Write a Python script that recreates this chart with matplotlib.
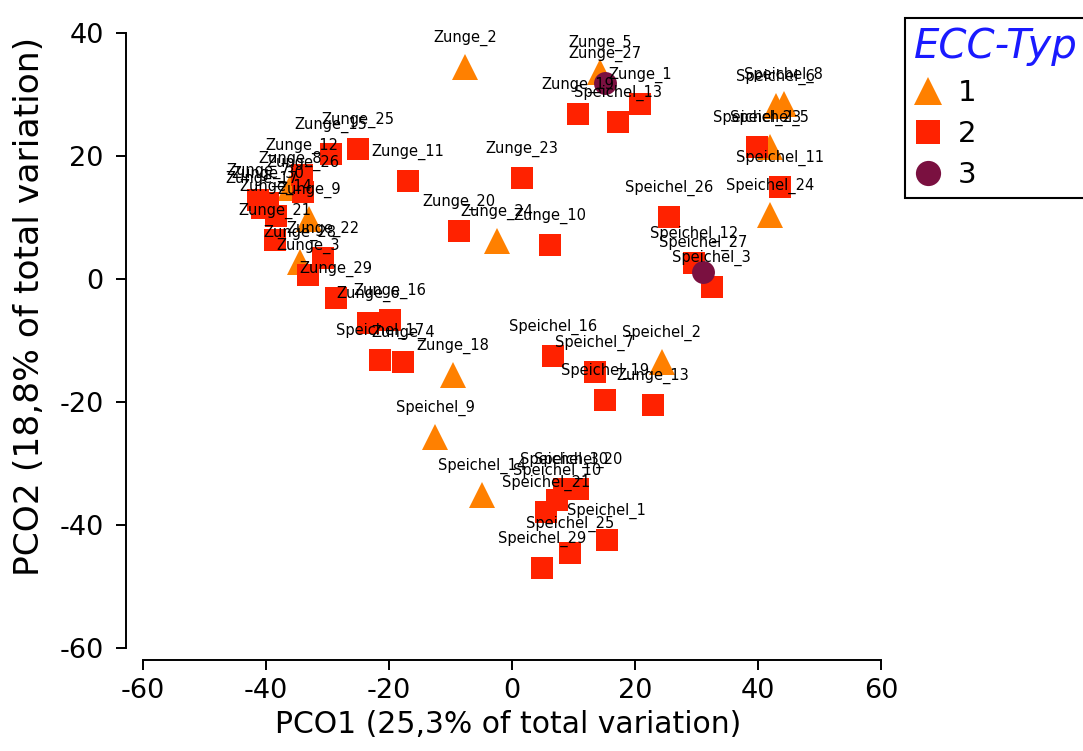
import numpy as np
import matplotlib.pyplot as plt
from matplotlib.lines import Line2D

plt.rcParams['axes.unicode_minus'] = False

# ECC-Typ 1 (triangles)
labels_1 = ['Zunge_2', 'Zunge_5', 'Speichel_6', 'Speichel_8', 'Speichel_5', 'Speichel_24',
            'Zunge_24', 'Zunge_8', 'Zunge_9', 'Zunge_28', 'Zunge_18', 'Speichel_9',
            'Speichel_14', 'Speichel_2']
pco1_1 = [-7.6, 14.3, 42.9, 44.2, 41.9, 42.0, -2.4, -36.1, -33.0, -34.5, -9.6, -12.5, -4.9, 24.4]
pco2_1 = [34.5, 33.7, 28.1, 28.5, 21.5, 10.4, 6.2, 14.8, 9.8, 2.8, -15.6, -25.7, -35.1, -13.5]

# ECC-Typ 2 (squares)
labels_2 = ['Zunge_19', 'Speichel_13', 'Zunge_1', 'Speichel_23', 'Speichel_11', 'Speichel_26',
            'Speichel_12', 'Speichel_3', 'Zunge_23', 'Zunge_20', 'Zunge_10', 'Zunge_11',
            'Zunge_25', 'Zunge_15', 'Zunge_12', 'Zunge_26', 'Zunge_30', 'Zunge_7',
            'Zunge_17', 'Zunge_14', 'Zunge_21', 'Zunge_22', 'Zunge_3', 'Zunge_29',
            'Zunge_6', 'Zunge_16', 'Speichel_17', 'Zunge_4', 'Speichel_16', 'Speichel_7',
            'Speichel_19', 'Zunge_13', 'Speichel_30', 'Speichel_20', 'Speichel_10',
            'Speichel_21', 'Speichel_1', 'Speichel_25', 'Speichel_29']
pco1_2 = [10.7, 17.2, 20.8, 39.8, 43.6, 25.5, 29.6, 32.5, 1.6, -8.6, 6.2, -16.9,
          -25.0, -29.4, -34.1, -34.0, -39.7, -41.3, -40.7, -38.4, -38.5, -30.7, -33.2, -28.6,
          -23.4, -19.8, -21.5, -17.7, 6.7, 13.5, 15.1, 22.9, 8.5, 10.7, 7.3,
          5.5, 15.4, 9.4, 4.9]
pco2_2 = [26.8, 25.5, 28.5, 21.5, 15.0, 10.1, 2.6, -1.3, 16.4, 7.8, 5.5, 15.9,
          21.1, 20.3, 16.9, 14.1, 12.4, 12.8, 11.5, 10.2, 6.3, 3.4, 0.7, -3.1,
          -7.2, -6.7, -13.2, -13.5, -12.5, -15.1, -19.7, -20.5, -34.1, -34.1, -35.9,
          -37.9, -42.4, -44.6, -47.0]

# ECC-Typ 3 (circles)
labels_3 = ['Zunge_27', 'Speichel_27']
pco1_3 = [15.1, 31.1]
pco2_3 = [31.9, 1.1]

groups = [
    ('1', labels_1, pco1_1, pco2_1, '^', '#FF8000', 18.5),
    ('2', labels_2, pco1_2, pco2_2, 's', '#FF2200', 16.3),
    ('3', labels_3, pco1_3, pco2_3, 'o', '#7A1040', 16.5),
]

fig = plt.figure(figsize=(10.83, 7.51), dpi=100)
ax = fig.add_axes([0.1163, 0.1212, 0.7054, 0.8455])

handles = []
for name, labs, xs, ys, mk, col, ms in groups:
    ax.plot(xs, ys, linestyle='none', marker=mk, color=col, markersize=ms,
            markeredgewidth=0, zorder=3)
    for lab, x, y in zip(labs, xs, ys):
        ax.annotate(lab, (x, y), xytext=(0, 21), textcoords='offset points',
                    ha='center', va='center', fontsize=10.5, color='black', zorder=5)
    handles.append(Line2D([], [], linestyle='none', marker=mk, color=col,
                          markersize=ms, markeredgewidth=0, label=name))

ax.set_xlim(-62.76, 61.46)
ax.set_ylim(-61.95, 41.3)
ax.spines['top'].set_visible(False)
ax.spines['right'].set_visible(False)
ax.spines['left'].set_bounds(-60, 40)
ax.spines['bottom'].set_bounds(-60, 60)
ax.spines['left'].set_linewidth(1.4)
ax.spines['bottom'].set_linewidth(1.4)
ax.set_xticks(np.arange(-60, 61, 20))
ax.set_yticks(np.arange(-60, 41, 20))
ax.tick_params(axis='both', direction='out', length=7, width=1.4, labelsize=19.5)
ax.tick_params(axis='y', pad=9)
ax.tick_params(axis='x', pad=6)

ax.set_xlabel('PCO1 (25,3% of total variation)', fontsize=21.5, labelpad=4)
ax.set_ylabel('PCO2 (18,8% of total variation)', fontsize=24.8)
ax.yaxis.set_label_coords(-0.105, 0.557)

leg = fig.legend(handles=handles, title='ECC-Typ', loc='upper left',
                 bbox_to_anchor=(0.8356, 0.976), fontsize=21, title_fontsize=29,
                 fancybox=False, framealpha=1, edgecolor='black', alignment='left',
                 handlelength=1.0, handletextpad=0.5, labelspacing=0.45,
                 borderpad=0.3, borderaxespad=0, markerscale=1.1)
leg.get_frame().set_linewidth(1.5)
leg.get_title().set_color('#1A1AFF')
leg.get_title().set_style('italic')

fig.savefig('out.png', dpi=100)
